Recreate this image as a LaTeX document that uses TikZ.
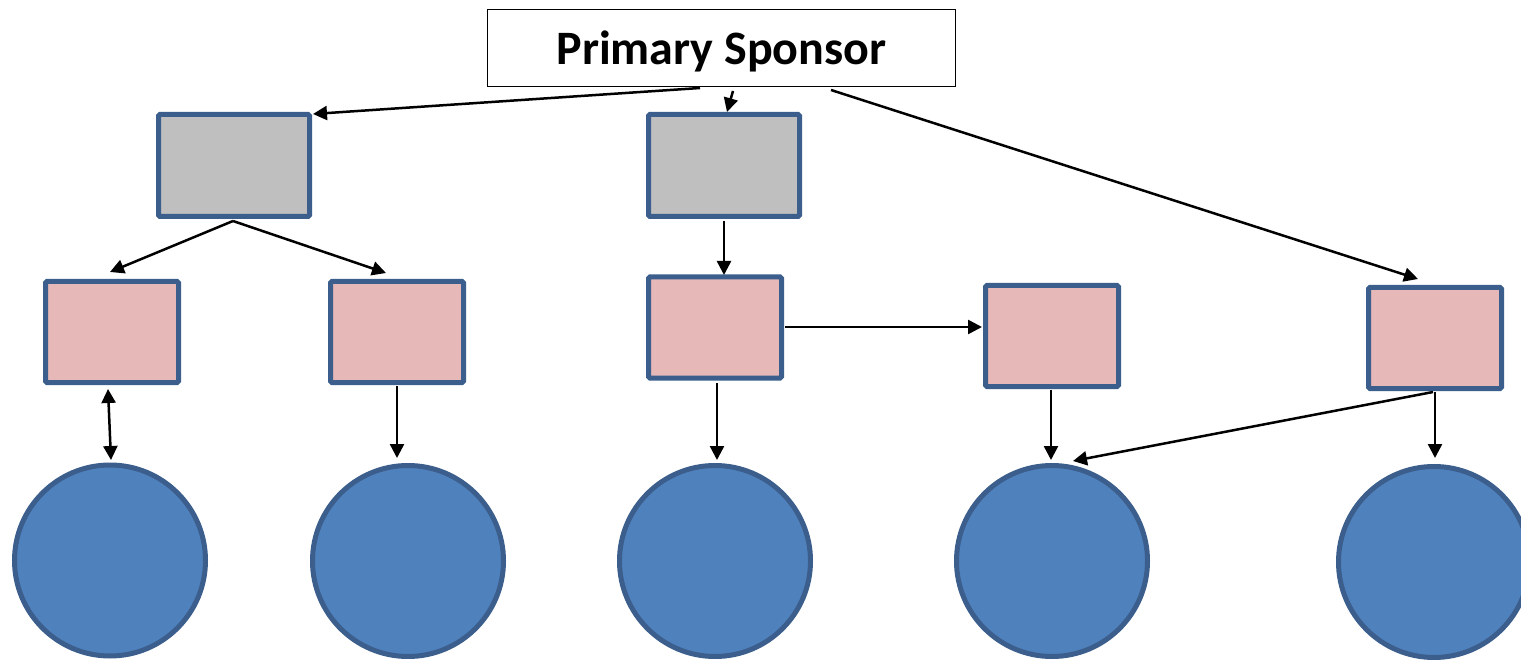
\documentclass[tikz,border=0pt]{standalone}
\usepackage{fontspec}
\setmainfont{Carlito}
\usetikzlibrary{arrows.meta}
\definecolor{bordc}{HTML}{3B5E8C}
\definecolor{grayc}{HTML}{BFBFBF}
\definecolor{pinkc}{HTML}{E6B8B7}
\definecolor{bluec}{HTML}{4F81BD}
\tikzset{
  graybox/.style={draw=bordc,line width=5pt,fill=grayc,rounded corners=1.5pt,minimum width=151pt,minimum height=102pt,inner sep=0pt},
  pinkbox/.style={draw=bordc,line width=5pt,fill=pinkc,rounded corners=1.5pt,minimum width=133pt,minimum height=101pt,inner sep=0pt},
  bluecirc/.style={circle,draw=bordc,line width=5pt,fill=bluec,minimum size=191pt,inner sep=0pt},
  conn/.style={line width=2.5pt,-{Triangle[length=14pt,width=14pt]}},
  bconn/.style={line width=2.5pt,{Triangle[length=14pt,width=14pt]}-{Triangle[length=14pt,width=14pt]}}
}
\begin{document}
\begin{tikzpicture}[x=1pt,y=-1pt]
\useasboundingbox (0,0) rectangle (1521,660);
\node[draw=black,line width=1.5pt,fill=white,minimum width=468pt,minimum height=77pt,inner sep=0pt] (sp) at (721.5,48) {};
\node[font=\fontsize{48}{54}\selectfont\bfseries,inner sep=0pt] (spt) at (721.5,51) {Primary Sponsor};
\node[graybox] (g1) at (234,165.5) {};
\node[graybox] (g2) at (724,165.5) {};
\node[pinkbox] (p1) at (112,332) {};
\node[pinkbox] (p2) at (397,332) {};
\node[pinkbox] (p3) at (715,327.5) {};
\node[pinkbox] (p4) at (1052,336) {};
\node[pinkbox] (p5) at (1435,338) {};
\node[bluecirc] (c1) at (110,560.5) {};
\node[bluecirc] (c2) at (408,561) {};
\node[bluecirc] (c3) at (715,561) {};
\node[bluecirc] (c4) at (1052,561) {};
\node[bluecirc] (c5) at (1434,562) {};
% connector endpoints
\coordinate (s1) at (700,88);
\coordinate (s2) at (733,91);
\coordinate (s3) at (831,90);
\coordinate (g1t) at (313,114);
\coordinate (g2t) at (727,112);
\coordinate (p5t) at (1418,279);
\coordinate (g1b) at (233,221);
\coordinate (p1t) at (110,272);
\coordinate (p2t) at (386,273);
\coordinate (g2b) at (724,221);
\coordinate (p3t) at (724,275);
\coordinate (p3r) at (785,327);
\coordinate (p4l) at (982,327);
\coordinate (p1b) at (108,389);
\coordinate (c1t) at (111,460);
\coordinate (p2b) at (397,386);
\coordinate (c2t) at (397,458);
\coordinate (p3b) at (717,383);
\coordinate (c3t) at (717,460);
\coordinate (p4b) at (1051,390);
\coordinate (c4t) at (1051,460);
\coordinate (c4r) at (1073,461);
\coordinate (p5b) at (1433,392);
\coordinate (p5c) at (1435,392);
\coordinate (c5t) at (1435,458);
\draw[conn] (s1) -- (g1t);
\draw[conn] (s2) -- (g2t);
\draw[conn] (s3) -- (p5t);
\draw[conn] (g1b) -- (p1t);
\draw[conn] (g1b) -- (p2t);
\draw[conn] (g2b) -- (p3t);
\draw[conn] (p3r) -- (p4l);
\draw[bconn] (p1b) -- (c1t);
\draw[conn] (p2b) -- (c2t);
\draw[conn] (p3b) -- (c3t);
\draw[conn] (p4b) -- (c4t);
\draw[conn] (p5b) -- (c4r);
\draw[conn] (p5c) -- (c5t);
\end{tikzpicture}
\end{document}
